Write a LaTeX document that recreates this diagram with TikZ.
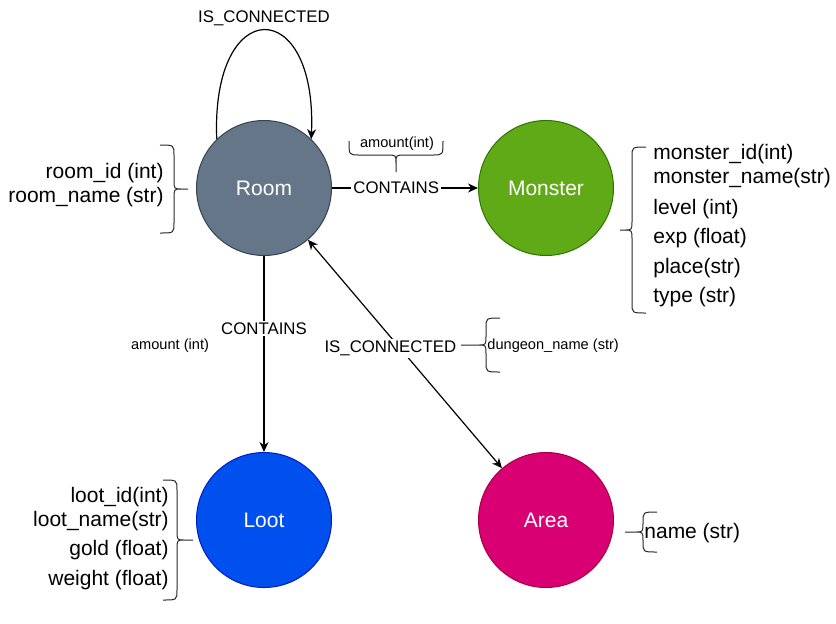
\documentclass[tikz,border=0pt]{standalone}
\usepackage{fontspec}
\setmainfont{Liberation Sans}
\usetikzlibrary{arrows.meta}
\newcommand{\attrbrace}[4]{%
  \draw[braceline,shift={#1},#2] (0,-#3) .. controls (-14,-#3) .. (-14,-#3+10) -- (-14,-9) .. controls (-14,0) .. (-22,0) -- (-#4,0)
    (-22,0) .. controls (-14,0) .. (-14,9) -- (-14,#3-10) .. controls (-14,#3) .. (0,#3);}
\begin{document}
\begin{tikzpicture}[x=0.5pt,y=-0.5pt,>={Stealth[length=5pt,width=4.5pt]},
  entity/.style={circle,minimum size=67.5pt,inner sep=0pt,line width=0.5pt,text=white,font=\fontsize{10.5}{12}\selectfont},
  attrtext/.style={inner sep=0pt,font=\fontsize{10.5}{12}\selectfont},
  rel/.style={draw=black,line width=0.6pt},
  reltext/.style={fill=white,inner sep=1pt,font=\fontsize{8.4}{10}\selectfont},
  smalltext/.style={inner sep=0pt,font=\fontsize{7.3}{9}\selectfont},
  braceline/.style={draw=black!85,line width=0.5pt}]
\useasboundingbox (0,0) rectangle (836,623);
\definecolor{roomfill}{HTML}{647687}
\definecolor{roomline}{HTML}{314354}
\definecolor{monsterfill}{HTML}{60A917}
\definecolor{monsterline}{HTML}{2D7600}
\definecolor{lootfill}{HTML}{0050EF}
\definecolor{lootline}{HTML}{001DBC}
\definecolor{areafill}{HTML}{D80073}
\definecolor{arealine}{HTML}{A50040}
\node[entity,fill=roomfill,draw=roomline] (room) at (264,188) {Room};
\node[entity,fill=monsterfill,draw=monsterline] (monster) at (546,188) {Monster};
\node[entity,fill=lootfill,draw=lootline] (loot) at (264,520) {Loot};
\node[entity,fill=areafill,draw=arealine] (area) at (546,520) {Area};
\draw[rel,->] (room.134) .. controls +(-6,-145) and +(6,-145) .. (room.46) node[pos=0.5,above=2pt,inner sep=0pt,font=\fontsize{8.4}{10}\selectfont] (selflabel) {IS\_CONNECTED};
\draw[rel,->] (room) -- node[reltext,pos=0.44] (containsm) {CONTAINS} (monster);
\draw[rel,->] (room) -- node[reltext,pos=0.37] (containsl) {CONTAINS} (loot);
\draw[rel,<->] (room) -- node[reltext,pos=0.476,xshift=-5pt] (connecta) {IS\_CONNECTED} (area);
\node[attrtext,anchor=east,align=right] (roomattr) at (164,185) {room\_id (int)\\room\_name (str)};
\node[attrtext,anchor=west,align=left] (monsterattr) at (653,226) {monster\_id(int)\\monster\_name(str)\\[3.5pt]level (int)\\[2.5pt]exp (float)\\[3pt]place(str)\\[2.5pt]type (str)};
\node[attrtext,anchor=east,align=right] (lootattr) at (169,539) {loot\_id(int)\\loot\_name(str)\\[2.5pt]gold (float)\\[3pt]weight (float)};
\node[attrtext,anchor=west] (areaattr) at (644,533) {name (str)};
\node[smalltext] (amountm) at (397,144) {amount(int)};
\node[smalltext] (amountl) at (170,346) {amount (int)};
\node[smalltext,anchor=west] (dungeon) at (487,346) {dungeon\_name (str)};
\attrbrace{(160,189)}{xscale=-1}{44}{28}
\attrbrace{(646,230)}{}{83}{26}
\attrbrace{(163,540)}{xscale=-1}{60}{30}
\attrbrace{(657,532)}{}{20}{32}
\attrbrace{(500,345)}{}{27}{39}
\attrbrace{(396,141)}{rotate=90}{47}{31}
\end{tikzpicture}
\end{document}
